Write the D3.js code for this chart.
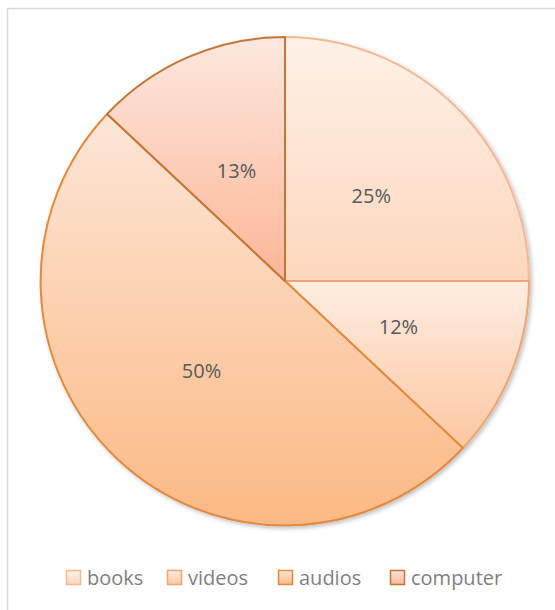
<!DOCTYPE html>
<html>
<head>
<meta charset="utf-8">
<script src="https://cdn.jsdelivr.net/npm/d3@7"></script>
<style>
  html, body { margin: 0; padding: 0; background: #fff; }
  svg { display: block; }
</style>
</head>
<body>
<svg id="chart" width="555" height="610"></svg>
<script>
// Category shares (percent)
const categories = ["books", "videos", "audios", "computer"];
const values = [25, 12, 50, 13];
// Per-category gradient stops (top, bottom) and outline colour
const fillTop = ["#fff1e8", "#ffede3", "#fde6d7", "#fde8df"];
const fillBottom = ["#fdd7bd", "#fdc7a0", "#fcb984", "#fcb696"];
const strokeColors = ["#f4b894", "#f2a470", "#e3893f", "#c37638"];

const svg = d3.select("#chart");
const cx = 285, cy = 281, R = 244;

// Chart frame
svg.append("rect")
  .attr("x", 7.5).attr("y", 8.5)
  .attr("width", 560).attr("height", 620)
  .attr("fill", "#fff").attr("stroke", "#d9d9d9").attr("stroke-width", 1.5);

const defs = svg.append("defs");
const shadow = defs.append("filter").attr("id", "shadow")
  .attr("x", "-10%").attr("y", "-10%").attr("width", "120%").attr("height", "120%");
shadow.append("feDropShadow")
  .attr("dx", 2).attr("dy", 2).attr("stdDeviation", 2)
  .attr("flood-color", "#000").attr("flood-opacity", 0.25);

categories.forEach((c, i) => {
  const g = defs.append("linearGradient").attr("id", "grad-" + i)
    .attr("x1", 0).attr("y1", 0).attr("x2", 0).attr("y2", 1);
  g.append("stop").attr("offset", "0%").attr("stop-color", fillTop[i]);
  g.append("stop").attr("offset", "100%").attr("stop-color", fillBottom[i]);
});

const pie = d3.pie().value(d => d).sort(null);
const arcs = pie(values);
const arc = d3.arc().innerRadius(0).outerRadius(R);
const labelArc = d3.arc().innerRadius(R * 0.5).outerRadius(R * 0.5);

const gPie = svg.append("g").attr("transform", `translate(${cx},${cy})`);

gPie.append("g").attr("filter", "url(#shadow)")
  .selectAll("path").data(arcs).enter().append("path")
  .attr("d", arc)
  .attr("fill", (d, i) => `url(#grad-${i})`)
  .attr("stroke", (d, i) => strokeColors[i])
  .attr("stroke-width", 2)
  .attr("stroke-linejoin", "round");

gPie.selectAll("text.lbl").data(arcs).enter().append("text")
  .attr("class", "lbl")
  .attr("transform", d => { const [x, y] = labelArc.centroid(d); return `translate(${x},${y + 1})`; })
  .attr("text-anchor", "middle")
  .attr("dominant-baseline", "central")
  .attr("font-family", "'Open Sans', 'Noto Sans', sans-serif")
  .attr("font-size", 20)
  .attr("fill", "#595959")
  .text(d => d.data + "%");

// Legend
const legendX = [66, 167, 278, 390];
const legend = svg.append("g");
categories.forEach((c, i) => {
  const g = legend.append("g").attr("transform", `translate(${legendX[i]},570)`);
  g.append("rect")
    .attr("x", 0.5).attr("y", 0.5).attr("width", 14).attr("height", 14)
    .attr("fill", `url(#grad-${i})`)
    .attr("stroke", strokeColors[i]).attr("stroke-width", 1.5);
  g.append("text")
    .attr("x", 21).attr("y", 7.5)
    .attr("dominant-baseline", "central")
    .attr("font-family", "'Open Sans', 'Noto Sans', sans-serif")
    .attr("font-size", 20)
    .attr("fill", "#7f7f7f")
    .text(c);
});
</script>
</body>
</html>
